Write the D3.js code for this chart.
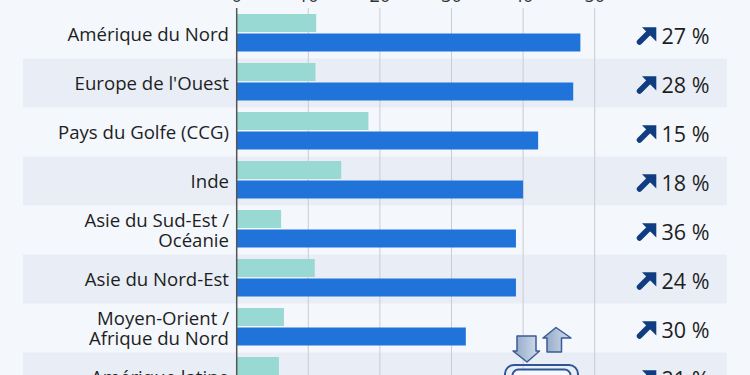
<!DOCTYPE html>
<html><head><meta charset="utf-8">
<script src="https://cdn.jsdelivr.net/npm/d3@7"></script>
<style>html,body{margin:0;padding:0;background:#f4f7fb;}svg{display:block;font-family:"Open Sans",sans-serif;}</style>
</head><body>
<svg id="c" width="750" height="375"></svg>
<script>
const categories = [
  ["Amérique du Nord"],
  ["Europe de l'Ouest"],
  ["Pays du Golfe (CCG)"],
  ["Inde"],
  ["Asie du Sud-Est /", "Océanie"],
  ["Asie du Nord-Est"],
  ["Moyen-Orient /", "Afrique du Nord"],
  ["Amérique latine"]
];
const seriesA = [11.1, 11.0, 18.4, 14.6, 6.2, 10.9, 6.6, 5.9];
const seriesB = [48.0, 47.0, 42.1, 40.0, 39.0, 39.0, 32.0, 28.0];
const growth = ["27 %", "28 %", "15 %", "18 %", "36 %", "24 %", "30 %", "21 %"];
const ticks = [0, 10, 20, 30, 40, 50];

const svg = d3.select("#c");
svg.append("rect").attr("width",750).attr("height",375).attr("fill","#f4f7fb");

const x = d3.scaleLinear().domain([0,50]).range([236.7,594.7]);
const y = d3.scaleBand().domain(d3.range(categories.length)).range([9.5, 9.5+49*categories.length]);
const rh = y.bandwidth();

// bands
svg.selectAll("rect.band").data(d3.range(categories.length).filter(i=>i%2===1)).join("rect")
  .attr("class","band").attr("x",23).attr("width",704).attr("y",i=>y(i)).attr("height",rh).attr("fill","#e9eef6");

// grid
const g = svg.append("g");
g.selectAll("line.grid").data(ticks.slice(1)).join("line")
  .attr("x1",d=>x(d)).attr("x2",d=>x(d)).attr("y1",8).attr("y2",375)
  .attr("stroke","#c9ccd0").attr("stroke-width",1);
g.selectAll("text.tick").data(ticks).join("text")
  .attr("x",d=>x(d)).attr("y",2).attr("text-anchor","middle").attr("font-size",18).attr("fill","#333").text(d=>d);

// bars
svg.selectAll("rect.a").data(seriesA).join("rect")
  .attr("x",x(0)).attr("y",(d,i)=>y(i)+4.5).attr("height",18).attr("width",d=>x(d)-x(0)).attr("fill","#98d9d3");
svg.selectAll("rect.b").data(seriesB).join("rect")
  .attr("x",x(0)).attr("y",(d,i)=>y(i)+24).attr("height",18).attr("width",d=>x(d)-x(0)).attr("fill","#2074d9");

// axis line
svg.append("line").attr("x1",x(0)).attr("x2",x(0)).attr("y1",8).attr("y2",375).attr("stroke","#555").attr("stroke-width",1.5);

// labels
categories.forEach((lines,i)=>{
  const cy = y(i)+rh/2;
  const n = lines.length;
  const t = svg.append("text").attr("text-anchor","end").attr("font-size",18.6).attr("fill","#1e1e1e");
  lines.forEach((l,j)=>{
    t.append("tspan").attr("x",229).attr("y",cy + 6.5 + (j-(n-1)/2)*20).text(l);
  });
});

// growth labels with arrows
growth.forEach((gv,i)=>{
  const cy = y(i)+rh/2;
  const gg = svg.append("g").attr("transform",`translate(0,${cy})`);
  gg.append("path").attr("d","M639.5,8 L649.5,-2").attr("stroke","#0f3d80").attr("stroke-width",5.5).attr("stroke-linecap","round");
  gg.append("path").attr("d","M642,-6.8 L656.3,-6.8 L656.3,7.5 Z").attr("fill","#0f3d80");
  gg.append("text").attr("x",661.5).attr("y",10).attr("font-size",21.5).attr("fill","#1e1e1e").text(gv);
});

// bottom icon
const ic = svg.append("g");
const defs = svg.append("defs");
const grad = defs.append("linearGradient").attr("id","ag").attr("x1",0).attr("x2",1);
grad.append("stop").attr("offset",0).attr("stop-color","#8fa6c6");
grad.append("stop").attr("offset",1).attr("stop-color","#d3deec");
ic.append("path").attr("d","M517,336 L536,336 L536,351 L539.5,351 L527,362 L513,351 L517,351 Z")
  .attr("fill","url(#ag)").attr("stroke","#3b5b96").attr("stroke-width",1.5).attr("stroke-linejoin","round");
ic.append("path").attr("d","M547,352 L561.5,352 L561.5,338 L571,338 L556,327.5 L543,338 L547,338 Z")
  .attr("fill","url(#ag)").attr("stroke","#3b5b96").attr("stroke-width",1.5).attr("stroke-linejoin","round");
ic.append("rect").attr("x",505).attr("y",365).attr("width",73).attr("height",30).attr("rx",9)
  .attr("fill","none").attr("stroke","#2f5596").attr("stroke-width",2);
ic.append("rect").attr("x",512.5).attr("y",369.5).attr("width",58).attr("height",25).attr("rx",6)
  .attr("fill","#f4f7fb").attr("stroke","#2f5596").attr("stroke-width",1.8);
</script>
</body></html>
